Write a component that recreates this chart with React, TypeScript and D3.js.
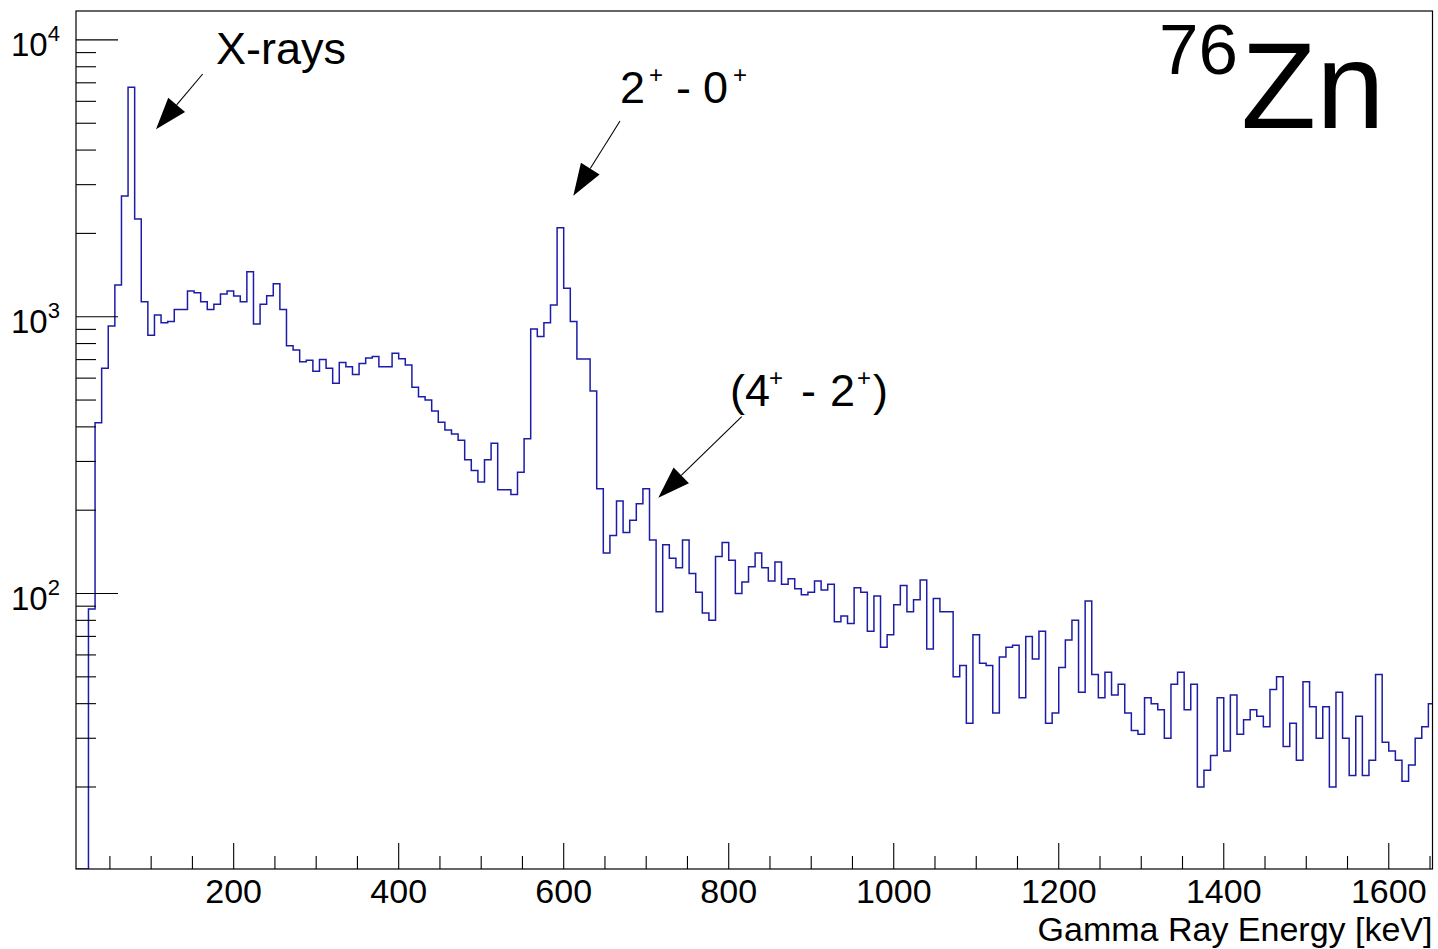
import React from "react";
import * as d3 from "d3";

// Gamma-ray spectrum gated on 76Zn, 8 keV bins starting at 8 keV
const BIN_LOW = 8;
const BIN_WIDTH = 8;
const counts: number[] = [
  0, 0, 88, 414, 651, 925, 1302, 2729, 6743, 2254,
  1133, 857, 1014, 951, 962, 1063, 1063, 1238, 1221, 1133,
  1063, 1109, 1208, 1238, 1188, 1133, 1454, 941, 1109, 1191,
  1316, 1063, 786, 758, 688, 696, 635, 701, 651, 575,
  684, 660, 619, 677, 709, 719, 660, 660, 738, 705,
  669, 556, 514, 500, 456, 416, 390, 377, 358, 304,
  278, 253, 304, 349, 237, 237, 228, 274, 362, 903,
  849, 951, 1102, 2097, 1266, 962, 703, 703, 539, 239,
  140, 162, 216, 166, 184, 211, 239, 156, 86, 150,
  134, 124, 156, 118, 101, 85, 80, 136, 153, 132,
  100, 110, 125, 140, 124, 111, 130, 108, 113, 104,
  99, 101, 111, 103, 108, 79, 83, 78, 105, 101,
  73, 98, 64, 71, 91, 107, 86, 95, 112, 63,
  96, 86, 86, 50, 55, 34, 71, 56, 55, 37,
  59, 64, 65, 42, 70, 58, 73, 34, 37, 54,
  68, 80, 44, 94, 51, 42, 52, 43, 47, 37,
  32, 31, 42, 40, 38, 30, 47, 52, 38, 47,
  20, 23, 26, 42, 27, 43, 31, 35, 38, 36,
  33, 45, 50, 28, 34, 25, 48, 39, 30, 39,
  20, 44, 30, 22, 36, 22, 25, 51, 29, 27,
  25, 21, 24, 30, 33, 40,
];

const xLabelTicks = [200, 400, 600, 800, 1000, 1200, 1400, 1600];
const xMinorStep = 50;
const yLabelExponents = [2, 3, 4];
const xTitle = "Gamma Ray Energy [keV]";

// Annotation arrows (tail -> tip, in pixels)
const arrows = [
  { x1: 202.7, y1: 74, x2: 156, y2: 129.3 },
  { x1: 620, y1: 121, x2: 573.3, y2: 195.7 },
  { x1: 741.7, y1: 416.7, x2: 658.3, y2: 497.7 },
];

const FONT = "'Liberation Sans', Arial, Helvetica, sans-serif";

function Arrow({ x1, y1, x2, y2 }: { x1: number; y1: number; x2: number; y2: number }) {
  const len = 32;
  const half = 11;
  const dx = x2 - x1;
  const dy = y2 - y1;
  const d = Math.hypot(dx, dy);
  const ux = dx / d;
  const uy = dy / d;
  const bx = x2 - ux * len;
  const by = y2 - uy * len;
  const pts = [
    [x2, y2],
    [bx - uy * half, by + ux * half],
    [bx + uy * half, by - ux * half],
  ];
  return (
    <g>
      <line x1={x1} y1={y1} x2={bx} y2={by} stroke="#000" strokeWidth={1.1} />
      <polygon points={pts.map((p) => p.join(",")).join(" ")} fill="#000" />
    </g>
  );
}

export default function App() {
  const W = 1438;
  const H = 949;
  const fr = { left: 76, right: 1432.5, top: 11, bottom: 869 };

  const x = d3.scaleLinear().domain([8.9, 1653]).range([fr.left, fr.right]);
  const y = d3.scaleLog().domain([10.11, 12720]).range([fr.bottom, fr.top]);
  const yv = (v: number) => (v <= y.domain()[0] ? fr.bottom : y(v));

  // step outline of the histogram
  const pts: [number, number][] = [];
  counts.forEach((c, i) => {
    const e0 = BIN_LOW + i * BIN_WIDTH;
    const e1 = e0 + BIN_WIDTH;
    pts.push([x(e0), yv(c)]);
    pts.push([x(e1), yv(c)]);
  });
  const path = d3.line()(pts) || "";

  // ticks
  const xTicks: { v: number; major: boolean }[] = [];
  for (let v = xMinorStep; v <= 1653; v += xMinorStep) {
    if (v < 8.9) continue;
    xTicks.push({ v, major: v % 200 === 0 });
  }
  const yTicks: { v: number; major: boolean }[] = [];
  for (let d = 1; d <= 4; d++) {
    for (let m = 1; m <= 9; m++) {
      const v = m * Math.pow(10, d);
      if (v >= y.domain()[0] && v <= y.domain()[1]) yTicks.push({ v, major: m === 1 });
    }
  }

  const axisFont = 34;

  return (
    <div style={{ position: "absolute", left: 0, top: 0, width: W, height: H, background: "#fff" }}>
      <svg width={W} height={H} style={{ display: "block" }} fontFamily={FONT}>
        <rect x={0} y={0} width={W} height={H} fill="#fff" />
        <defs>
          <clipPath id="frameClip">
            <rect x={fr.left} y={fr.top} width={fr.right - fr.left} height={fr.bottom - fr.top} />
          </clipPath>
        </defs>

        <path d={path} fill="none" stroke="#1c1ca8" strokeWidth={1.5} clipPath="url(#frameClip)" />

        {/* frame */}
        <rect
          x={fr.left}
          y={fr.top}
          width={fr.right - fr.left}
          height={fr.bottom - fr.top}
          fill="none"
          stroke="#000"
          strokeWidth={1.2}
        />

        {/* x ticks */}
        {xTicks.map((t) => (
          <line
            key={"xt" + t.v}
            x1={x(t.v)}
            x2={x(t.v)}
            y1={fr.bottom}
            y2={fr.bottom - (t.major ? 26 : 13)}
            stroke="#000"
            strokeWidth={1.1}
          />
        ))}
        {xLabelTicks.map((v) => (
          <text key={"xl" + v} x={x(v)} y={903} fontSize={axisFont} textAnchor="middle" fill="#000">
            {v}
          </text>
        ))}
        <text x={fr.right} y={941} fontSize={axisFont} textAnchor="end" fill="#000">
          {xTitle}
        </text>

        {/* y ticks */}
        {yTicks.map((t) => (
          <line
            key={"yt" + t.v}
            x1={fr.left}
            x2={fr.left + (t.major ? 42 : 20)}
            y1={y(t.v)}
            y2={y(t.v)}
            stroke="#000"
            strokeWidth={1.1}
          />
        ))}
        {yLabelExponents.map((e) => {
          const ty = y(Math.pow(10, e));
          return (
            <text key={"yl" + e} x={11} y={ty + 16} fontSize={33} fill="#000">
              10
              <tspan dy={-15} fontSize={22}>
                {e}
              </tspan>
            </text>
          );
        })}

        {/* annotations */}
        {arrows.map((a, i) => (
          <Arrow key={i} x1={a.x1} y1={a.y1} x2={a.x2} y2={a.y2} />
        ))}
        <text x={216} y={63.5} fontSize={45} fill="#000">
          X-rays
        </text>

        <g fontSize={45} fill="#000">
          <text x={620} y={103}>2</text>
          <text x={649} y={83} fontSize={24}>+</text>
          <text x={676} y={103}>-</text>
          <text x={703} y={103}>0</text>
          <text x={733} y={83} fontSize={24}>+</text>
        </g>

        <g fontSize={45} fill="#000">
          <text x={730} y={406}>(</text>
          <text x={745} y={406}>4</text>
          <text x={769} y={386} fontSize={24}>+</text>
          <text x={801} y={406}>-</text>
          <text x={830} y={406}>2</text>
          <text x={857} y={386} fontSize={24}>+</text>
          <text x={873} y={406}>)</text>
        </g>

        <text x={1159} y={73.5} fontSize={71} fill="#000">
          76
        </text>
        <text x={1241} y={127.7} fontSize={123} fill="#000">
          Zn
        </text>
      </svg>
    </div>
  );
}
